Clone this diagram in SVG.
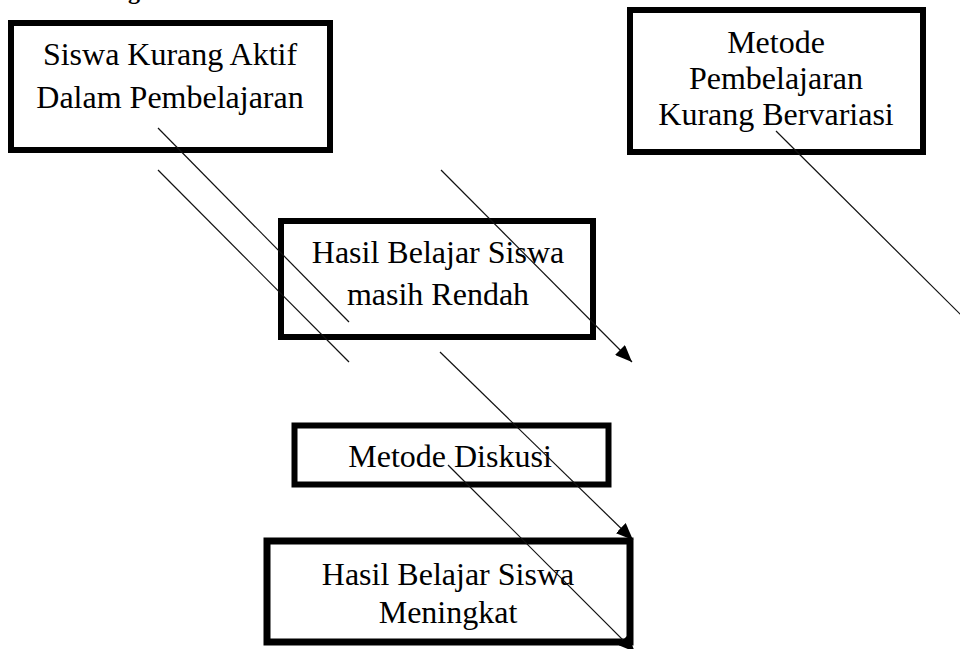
<svg xmlns="http://www.w3.org/2000/svg" width="960" height="649" viewBox="0 0 960 649">
<style>
.box{fill:none;stroke:#000;stroke-width:6}
.t{font-family:"Liberation Serif","Times New Roman",serif;font-size:32px;fill:#000;text-anchor:middle}
.c{stroke:#111;stroke-width:1.2;fill:none}
</style>
<defs>
<marker id="ah" markerUnits="userSpaceOnUse" markerWidth="18" markerHeight="14" refX="17" refY="7" orient="auto">
<path d="M0,0 L17,7 L0,14 z" fill="#000"/>
</marker>
</defs>
<rect width="960" height="649" fill="#fff"/>
<text x="128" y="-1" style="font-family:'Liberation Serif',serif;font-size:24px;font-weight:bold">g</text>
<g id="n1">
<rect class="box" x="11" y="23" width="319" height="127"/>
<text class="t" x="170" y="65">Siswa Kurang Aktif</text>
<text class="t" x="170" y="108">Dalam Pembelajaran</text>
</g>
<g id="n2">
<rect class="box" x="630" y="10" width="293" height="142"/>
<text class="t" x="776" y="53">Metode</text>
<text class="t" x="776" y="89">Pembelajaran</text>
<text class="t" x="776" y="125">Kurang Bervariasi</text>
</g>
<g id="n3">
<rect class="box" x="281" y="221" width="312" height="116"/>
<text class="t" x="438" y="263">Hasil Belajar Siswa</text>
<text class="t" x="438" y="305">masih Rendah</text>
</g>
<g id="n4">
<rect class="box" x="294.5" y="425.5" width="314" height="59"/>
<text class="t" x="450" y="467">Metode Diskusi</text>
</g>
<g id="n5">
<rect class="box" x="267" y="541" width="363" height="101" style="stroke-width:7"/>
<text class="t" x="448" y="585">Hasil Belajar Siswa</text>
<text class="t" x="448" y="623">Meningkat</text>
</g>
<g id="connectors">
<line class="c" x1="158" y1="128" x2="349" y2="322"/>
<line class="c" x1="158" y1="170" x2="349" y2="362"/>
<line class="c" x1="441" y1="170" x2="632" y2="362" marker-end="url(#ah)"/>
<line class="c" x1="440" y1="352" x2="633" y2="540" marker-end="url(#ah)"/>
<line class="c" x1="448" y1="465" x2="635" y2="652" marker-end="url(#ah)"/>
<line class="c" x1="776" y1="131" x2="962" y2="316"/>
</g>
</svg>
